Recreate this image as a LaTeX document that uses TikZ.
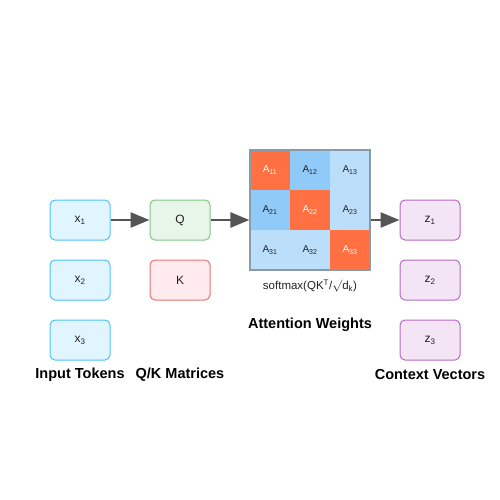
\documentclass[tikz,border=0pt]{standalone}
\usepackage{fontspec}
\setmainfont{Liberation Sans}
\usetikzlibrary{arrows.meta}
\definecolor{inFill}{HTML}{E1F5FE}\definecolor{inLine}{HTML}{4FC3F7}
\definecolor{qFill}{HTML}{E8F5E9}\definecolor{qLine}{HTML}{81C784}
\definecolor{kFill}{HTML}{FFEBEE}\definecolor{kLine}{HTML}{E57373}
\definecolor{zFill}{HTML}{F3E5F5}\definecolor{zLine}{HTML}{BA68C8}
\definecolor{hot}{HTML}{FF7043}\definecolor{mid}{HTML}{90CAF9}\definecolor{low}{HTML}{BBDEFB}
\definecolor{frameC}{HTML}{8A9BA8}\definecolor{arr}{HTML}{555555}\definecolor{txt}{HTML}{222222}
\tikzset{
  tok/.style={draw, line width=1pt, rounded corners=5pt, minimum width=60pt, minimum height=40pt, inner sep=0pt, text=txt, font=\fontsize{12}{14}\selectfont},
  intok/.style={tok, fill=inFill, draw=inLine},
  qbox/.style={tok, fill=qFill, draw=qLine},
  kbox/.style={tok, fill=kFill, draw=kLine},
  zbox/.style={tok, fill=zFill, draw=zLine},
  cell/.style={minimum size=40pt, inner sep=0pt, font=\fontsize{10}{12}\selectfont},
  hotc/.style={cell, fill=hot, text=white},
  midc/.style={cell, fill=mid, text=txt},
  lowc/.style={cell, fill=low, text=txt},
  title/.style={font=\bfseries\fontsize{14.5}{16}\selectfont, text=black},
  flow/.style={draw=arr, line width=2.5pt, -{Triangle[length=19pt,width=15pt]}},
}
\begin{document}
\begin{tikzpicture}[x=1pt,y=-1pt]
\useasboundingbox (0,0) rectangle (500,500);
% inputs
\node[intok] (x1) at (80,220) {x\textsubscript{1}};
\node[intok] (x2) at (80,280) {x\textsubscript{2}};
\node[intok] (x3) at (80,340) {x\textsubscript{3}};
\node[title] (lin) at (80,375) {Input Tokens};
% Q/K
\node[qbox] (q) at (180,220) {Q};
\node[kbox] (k) at (180,280) {K};
\node[title] (lqk) at (180,375) {Q/K Matrices};
% attention matrix
\node[hotc] (a11) at (270,170) {A\textsubscript{11}};
\node[midc] (a12) at (310,170) {A\textsubscript{12}};
\node[lowc] (a13) at (350,170) {A\textsubscript{13}};
\node[midc] (a21) at (270,210) {A\textsubscript{21}};
\node[hotc] (a22) at (310,210) {A\textsubscript{22}};
\node[lowc] (a23) at (350,210) {A\textsubscript{23}};
\node[lowc] (a31) at (270,250) {A\textsubscript{31}};
\node[lowc] (a32) at (310,250) {A\textsubscript{32}};
\node[hotc] (a33) at (350,250) {A\textsubscript{33}};
\node[draw=frameC, line width=1.2pt, minimum size=120pt, inner sep=0pt] (attn) at (310,210) {};
\node[font=\fontsize{11.5}{13}\selectfont, text=txt] (soft) at (310,286) {softmax(QK\textsuperscript{T}/\(\surd\)d\textsubscript{k})};
\node[title] (latt) at (310,325) {Attention Weights};
% outputs
\node[zbox] (z1) at (430,220) {z\textsubscript{1}};
\node[zbox] (z2) at (430,280) {z\textsubscript{2}};
\node[zbox] (z3) at (430,340) {z\textsubscript{3}};
\node[title] (lz) at (430,375) {Context Vectors};
% arrows
\draw[flow] (x1.east) -- (q.west);
\draw[flow] (q.east) -- (q.east -| attn.west);
\draw[flow] (z1.west -| attn.east) -- (z1.west);
\end{tikzpicture}
\end{document}
